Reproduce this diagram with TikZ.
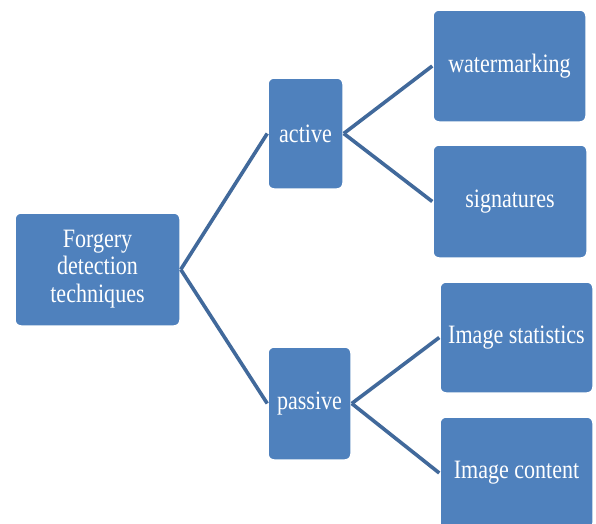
\documentclass[tikz,border=0pt]{standalone}
\usepackage{fontspec}
\usepackage{graphicx}
\setmainfont{Liberation Serif}
\definecolor{boxblue}{HTML}{4F81BD}
\definecolor{linkblue}{HTML}{41699B}
\newcommand{\tallt}[1]{\scalebox{0.98}[1.18]{#1}}
\begin{document}
\begin{tikzpicture}[x=1pt,y=-1pt,
  box/.style={draw=white, line width=1.5pt, fill=boxblue, rounded corners=6pt,
    text=white, align=center, inner sep=0pt,
    font=\fontsize{22.5}{23}\selectfont},
  link/.style={draw=linkblue, line width=3.6pt}]
\useasboundingbox[fill=white] (0,0) rectangle (596,523);
\node[box, minimum width=165pt, minimum height=113pt] (root) at (97.5,269.5) {\tallt{\begin{tabular}{@{}c@{}}Forgery\\detection\\techniques\end{tabular}}};
\node[box, minimum width=75pt, minimum height=111pt] (active) at (305.5,133.5) {\tallt{active}};
\node[box, minimum width=83pt, minimum height=113pt] (passive) at (309.5,403.5) {\tallt{passive}};
\node[box, minimum width=153pt, minimum height=112pt] (water) at (509.5,66) {\tallt{watermarking}};
\node[box, minimum width=154pt, minimum height=113pt] (sig) at (510,201.5) {\tallt{signatures}};
\node[box, minimum width=153pt, minimum height=111pt] (stat) at (516.5,337.5) {\tallt{Image statistics}};
\node[box, minimum width=153pt, minimum height=112pt] (content) at (516.5,473) {\tallt{Image content}};
\draw[link] (root.east) -- (active.west);
\draw[link] (root.east) -- (passive.west);
\draw[link] (active.east) -- (water.west);
\draw[link] (active.east) -- (sig.west);
\draw[link] (passive.east) -- (stat.west);
\draw[link] (passive.east) -- (content.west);
\end{tikzpicture}
\end{document}
